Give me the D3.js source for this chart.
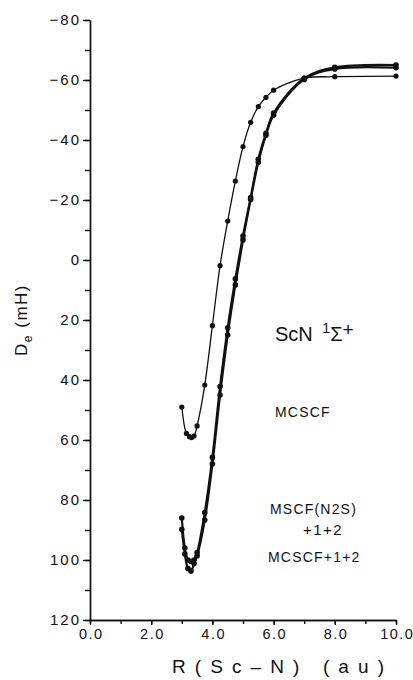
<!DOCTYPE html>
<html>
<head>
<meta charset="utf-8">
<script src="https://cdn.jsdelivr.net/npm/d3@7"></script>
<style>
  body { margin: 0; background: #fff; }
  text { font-family: "Liberation Sans", Arial, sans-serif; fill: #111; }
  .axis path, .axis line { stroke: #111; stroke-width: 1.4; }
  .axis text { font-size: 15px; letter-spacing: 2px; font-family: "Liberation Sans", Arial, sans-serif; }
  .xaxis text { font-size: 14.5px; letter-spacing: 1.5px; }
</style>
</head>
<body>
<div id="container"></div>
<script>
const w = 413;
const h = 680;

// R(Sc-N) in au
let rMcscf = [3.0, 3.15, 3.25, 3.32, 3.4, 3.5, 3.75, 4.0, 4.25, 4.5, 4.75, 5.0, 5.25, 5.5, 5.75, 6.0, 7.0, 8.0, 10.0];
let deMcscf = [49, 57.8, 58.9, 59.2, 58.7, 55.3, 41.7, 21.9, 1.9, -13, -26.3, -37.8, -45.9, -51.1, -54.2, -56.6, -60.6, -61.1, -61.3];

let rN2s = [3.0, 3.1, 3.2, 3.3, 3.4, 3.5, 3.75, 4.0, 4.25, 4.5, 4.75, 5.0, 5.25, 5.5, 5.75, 6.0, 7.0, 8.0, 10.0];
let deN2s = [86, 96, 100, 100.5, 100, 97.5, 84.2, 65.8, 42.2, 22.6, 6.3, -8, -20.8, -33.6, -42.2, -49, -60.6, -64.2, -65];

let rCi = [3.0, 3.1, 3.2, 3.3, 3.4, 3.5, 3.75, 4.0, 4.25, 4.5, 4.75, 5.0, 5.25, 5.5, 5.75, 6.0, 7.0, 8.0, 10.0];
let deCi = [89.8, 98, 102.8, 103.7, 101.2, 98.6, 86.7, 68, 45, 25, 8.3, -6.7, -20.2, -32.6, -41.6, -48.3, -60.2, -63.7, -64.1];

let xTicks = [0, 2, 4, 6, 8, 10];
let yTicks = [-80, -60, -40, -20, 0, 20, 40, 60, 80, 100, 120];

let xScale = d3.scaleLinear().domain([0, 10]).range([90, 396]);
let yScale = d3.scaleLinear().domain([-80, 120]).range([20, 620]);

let viz = d3.select("#container").append("svg").attr("width", w).attr("height", h)
  .style("background", "#fff");

// minor ticks
let xMinor = d3.axisBottom(xScale).tickValues(d3.range(0, 10.01, 1)).tickSize(4).tickFormat("").tickSizeOuter(0);
viz.append("g").attr("class", "axis").attr("transform", "translate(0,620)").call(xMinor);
let yMinor = d3.axisLeft(yScale).tickValues(d3.range(-80, 120.01, 10)).tickSize(5).tickFormat("").tickSizeOuter(0);
viz.append("g").attr("class", "axis").attr("transform", "translate(90,0)").call(yMinor);

// major ticks
let xAxis = d3.axisBottom(xScale).tickValues(xTicks).tickSize(5).tickPadding(4).tickSizeOuter(0)
  .tickFormat(d3.format(".1f"));
viz.append("g").attr("class", "axis xaxis").attr("transform", "translate(0,620)").call(xAxis);
viz.selectAll(".xaxis text").attr("dx", "0.75px");
let yAxis = d3.axisLeft(yScale).tickValues(yTicks).tickSize(7).tickPadding(2).tickSizeOuter(0)
  .tickFormat(d => d < 0 ? "\u2212" + Math.abs(d) : String(d));
viz.append("g").attr("class", "axis").attr("transform", "translate(90,0)").call(yAxis);

// axis titles
viz.append("text")
  .attr("transform", "translate(27,320) rotate(-90)")
  .attr("text-anchor", "middle")
  .style("font-size", "17px")
  .style("letter-spacing", "1.5px")
  .html('D<tspan font-size="12px" dy="5">e</tspan><tspan dy="-5"> (mH)</tspan>');

viz.append("text")
  .attr("x", 172).attr("y", 673)
  .attr("textLength", 212).attr("lengthAdjust", "spacing")
  .style("font-size", "19px")
  .text("R(Sc\u2013N) (au)");

// curves
function series(rs, ds){
  return rs.map(function(r, i){ return { r: r, de: ds[i] }; });
}
let line = d3.line()
  .x(function(d){ return xScale(d.r) })
  .y(function(d){ return yScale(d.de) })
  .curve(d3.curveCatmullRom);

let curves = [
  { data: series(rMcscf, deMcscf), width: 1.3, r: 2.6 },
  { data: series(rN2s, deN2s), width: 2.2, r: 2.8 },
  { data: series(rCi, deCi), width: 2.2, r: 2.8 }
];

curves.forEach(function(c){
  viz.append("path").datum(c.data)
    .attr("d", line)
    .attr("fill", "none")
    .attr("stroke", "#111")
    .attr("stroke-width", c.width);
  viz.selectAll(null).data(c.data).enter().append("circle")
    .attr("cx", function(d){ return xScale(d.r) })
    .attr("cy", function(d){ return yScale(d.de) })
    .attr("r", c.r)
    .attr("fill", "#111");
});

// labels
viz.append("text").attr("x", 275).attr("y", 341)
  .style("font-size", "20px")
  .html('ScN <tspan font-size="14px" dy="-8" dx="4">1</tspan><tspan dy="8" font-size="20px">\u03A3</tspan><tspan font-size="19px" dy="-5">+</tspan>');

viz.append("text").attr("x", 275).attr("y", 417)
  .style("font-size", "14px").style("letter-spacing", "1.2px").text("MCSCF");

viz.append("text").attr("x", 270).attr("y", 514)
  .style("font-size", "14px").style("letter-spacing", "1.2px").text("MSCF(N2S)");
viz.append("text").attr("x", 303).attr("y", 535)
  .style("font-size", "15px").style("letter-spacing", "1.5px").text("+1+2");
viz.append("text").attr("x", 268).attr("y", 562)
  .style("font-size", "14px").style("letter-spacing", "1.2px").text("MCSCF+1+2");
</script>
</body>
</html>
